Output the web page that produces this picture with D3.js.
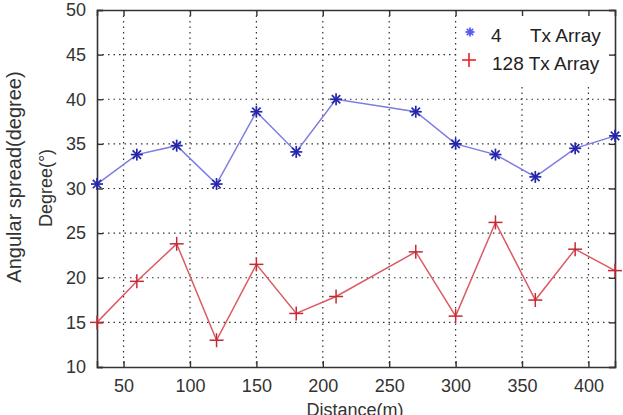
<!DOCTYPE html>
<html><head><meta charset="utf-8">
<script src="https://cdn.jsdelivr.net/npm/d3@7"></script>
<style>body{margin:0;background:#fff}text{font-family:"Liberation Sans",Arial,sans-serif}</style>
</head><body><svg id="c" width="623" height="415"></svg>
<script>
const distances = [30, 60, 90, 120, 150, 180, 210, 270, 300, 330, 360, 390, 420];
const tx4 = [30.5, 33.8, 34.8, 30.5, 38.6, 34.1, 40.0, 38.6, 35.0, 33.8, 31.3, 34.5, 35.9];
const tx128 = [15.0, 19.6, 23.8, 13.0, 21.5, 16.0, 17.9, 22.9, 15.7, 26.2, 17.5, 23.2, 20.8];
const xTicks = [50, 100, 150, 200, 250, 300, 350, 400];
const yTicks = [10, 15, 20, 25, 30, 35, 40, 45, 50];
const legendNums = ["4", "128"];
const legendText = "Tx Array";

const svg = d3.select("#c");
const L = 97, R = 615, T = 10, B = 367;
const x = d3.scaleLinear().domain([30, 420]).range([L, R]);
const y = d3.scaleLinear().domain([10, 50]).range([B, T]);
const FONT = '"Liberation Sans",Arial,sans-serif';

// grid
const g = svg.append("g");
g.selectAll(".vg").data(xTicks).join("line")
  .attr("x1", d => x(d)).attr("x2", d => x(d)).attr("y1", T).attr("y2", B)
  .attr("stroke", "#333").attr("stroke-width", 1.2).attr("stroke-dasharray", "1.5,4");
g.selectAll(".hg").data(yTicks.filter(d => d > 10 && d < 50)).join("line")
  .attr("x1", L).attr("x2", R).attr("y1", d => y(d)).attr("y2", d => y(d))
  .attr("stroke", "#333").attr("stroke-width", 1.2).attr("stroke-dasharray", "1.5,4");

// legend background
svg.append("rect").attr("x", 458).attr("y", T + 1).attr("width", R - 459).attr("height", 76).attr("fill", "#fff");

// axes
const ax = svg.append("g").attr("transform", `translate(0,${B})`)
  .call(d3.axisBottom(x).tickValues(xTicks).tickSize(-6).tickPadding(12));
const axT = svg.append("g").attr("transform", `translate(0,${T})`)
  .call(d3.axisTop(x).tickValues(xTicks).tickSize(-6).tickFormat(""));
const ay = svg.append("g").attr("transform", `translate(${L},0)`)
  .call(d3.axisLeft(y).tickValues(yTicks).tickSize(-6).tickPadding(11));
const ayR = svg.append("g").attr("transform", `translate(${R},0)`)
  .call(d3.axisRight(y).tickValues(yTicks).tickSize(-6).tickFormat(""));
[ax, axT, ay, ayR].forEach(a => {
  a.select(".domain").attr("stroke", "#333").attr("stroke-width", 1.6);
  a.selectAll(".tick line").attr("stroke", "#333").attr("stroke-width", 1.4);
  a.selectAll(".tick text").attr("font-size", 18).attr("fill", "#333").attr("font-family", FONT);
});

// lines
const line = (vals) => d3.line().x((d, i) => x(distances[i])).y(d => y(d))(vals);
svg.append("path").attr("d", line(tx4)).attr("fill", "none").attr("stroke", "#7c7ce2").attr("stroke-width", 1.5);
svg.append("path").attr("d", line(tx128)).attr("fill", "none").attr("stroke", "#dc5a64").attr("stroke-width", 1.5);

// markers
function star(sel, cx, cy, r, color, w) {
  const gg = sel.append("g").attr("stroke", color).attr("stroke-width", w);
  gg.append("line").attr("x1", cx - r).attr("x2", cx + r).attr("y1", cy).attr("y2", cy);
  gg.append("line").attr("x1", cx).attr("x2", cx).attr("y1", cy - r).attr("y2", cy + r);
  const k = r * 0.7;
  gg.append("line").attr("x1", cx - k).attr("x2", cx + k).attr("y1", cy - k).attr("y2", cy + k);
  gg.append("line").attr("x1", cx - k).attr("x2", cx + k).attr("y1", cy + k).attr("y2", cy - k);
}
function plus(sel, cx, cy, r, color, w) {
  const gg = sel.append("g").attr("stroke", color).attr("stroke-width", w);
  gg.append("line").attr("x1", cx - r).attr("x2", cx + r).attr("y1", cy).attr("y2", cy);
  gg.append("line").attr("x1", cx).attr("x2", cx).attr("y1", cy - r).attr("y2", cy + r);
}
tx4.forEach((v, i) => star(svg, x(distances[i]), y(v), 6, "#2626a8", 1.7));
tx128.forEach((v, i) => plus(svg, x(distances[i]), y(v), 7, "#c42a36", 1.5));

// legend
star(svg, 470, 32, 4.5, "#5a5af5", 1.8);
plus(svg, 469, 60, 7, "#f02020", 1.6);
svg.append("text").attr("x", 491).attr("y", 42).attr("font-size", 19).attr("fill", "#222").text(legendNums[0]);
svg.append("text").attr("x", 530).attr("y", 42).attr("font-size", 19).attr("fill", "#222").text(legendText);
svg.append("text").attr("x", 492).attr("y", 70).attr("font-size", 19).attr("fill", "#222").text(legendNums[1] + " " + legendText);

// axis labels
svg.append("text").attr("transform", "translate(21,177) rotate(-90)").attr("text-anchor", "middle")
  .attr("font-size", 20).attr("fill", "#333").text("Angular spread(degree)");
svg.append("text").attr("transform", "translate(52,188) rotate(-90)").attr("text-anchor", "middle")
  .attr("font-size", 18).attr("fill", "#333").text("Degree(°)");
svg.append("text").attr("x", 355).attr("y", 416).attr("text-anchor", "middle")
  .attr("font-size", 18).attr("fill", "#333").text("Distance(m)");
</script></body></html>
